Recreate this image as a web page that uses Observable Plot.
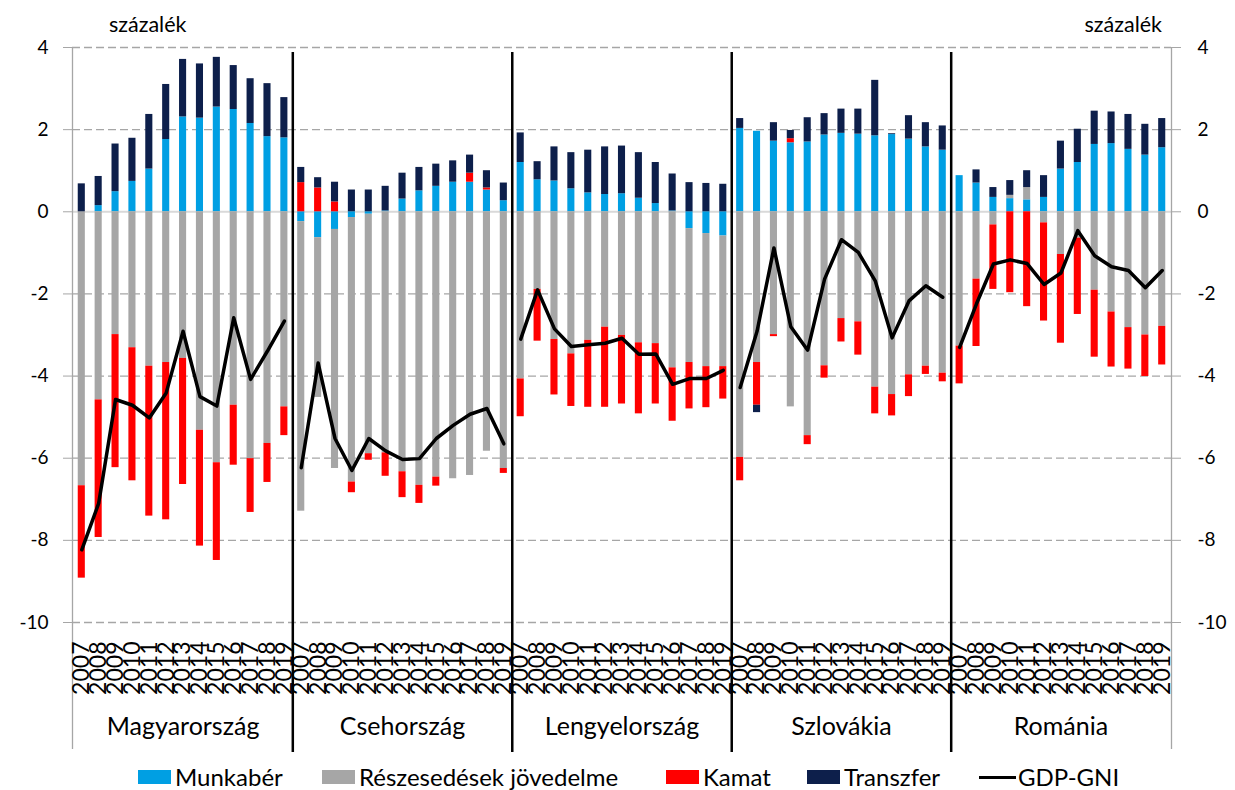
<!DOCTYPE html>
<html><head><meta charset="utf-8">
<script src="https://cdn.jsdelivr.net/npm/d3@7"></script>
<script src="https://cdn.jsdelivr.net/npm/@observablehq/plot@0.6"></script>
<style>
body{margin:0;background:#fff;font-family:Lato,"Open Sans",sans-serif;color:#000}
#wrap{position:relative;width:1235px;height:790px}
#chart{position:absolute;left:0;top:0;z-index:1}
.unit{position:absolute;top:12px;font-size:21.5px;line-height:24px;z-index:2}
.item{position:absolute;top:765px;height:24px;display:flex;align-items:center;font-size:24px;line-height:24px;white-space:nowrap;z-index:2}
.sw{display:inline-block;width:33px;height:14px;margin-right:4px}
.ln{display:inline-block;width:37px;height:3px;background:#000;margin-right:2px}
</style></head>
<body><div id="wrap">
<div id="chart"></div>
<div class="unit" style="left:109px">százalék</div>
<div class="unit" style="right:73px">százalék</div>
<div class="item" style="left:138px"><span class="sw" style="background:#009fe3"></span>Munkabér</div>
<div class="item" style="left:322px"><span class="sw" style="background:#a6a6a6"></span>Részesedések jövedelme</div>
<div class="item" style="left:666px"><span class="sw" style="background:#ff0000"></span>Kamat</div>
<div class="item" style="left:807px"><span class="sw" style="background:#0d1f4b"></span>Transzfer</div>
<div class="item" style="left:979px"><span class="ln"></span>GDP-GNI</div>
</div>
<script>
const countries = ["Magyarország", "Csehország", "Lengyelország", "Szlovákia", "Románia"];
const years = [2007, 2008, 2009, 2010, 2011, 2012, 2013, 2014, 2015, 2016, 2017, 2018, 2019];
const seriesNames = ["Munkabér", "Részesedések jövedelme", "Kamat", "Transzfer"];
const seriesColors = ["#009fe3", "#a6a6a6", "#ff0000", "#0d1f4b"];
const yTicks = [-10, -8, -6, -4, -2, 0, 2, 4];

const munkaber = [
  [0, 0.15, 0.49, 0.74, 1.04, 1.76, 2.31, 2.28, 2.55, 2.49, 2.15, 1.83, 1.80],
  [-0.24, -0.63, -0.43, -0.14, -0.06, 0.02, 0.31, 0.51, 0.62, 0.72, 0.72, 0.53, 0.27],
  [1.20, 0.78, 0.75, 0.56, 0.46, 0.42, 0.44, 0.33, 0.20, 0.02, -0.41, -0.53, -0.59],
  [2.03, 1.96, 1.72, 1.68, 1.70, 1.87, 1.91, 1.89, 1.85, 1.88, 1.77, 1.58, 1.50],
  [0.88, 0.70, 0.35, 0.32, 0.29, 0.35, 1.04, 1.20, 1.64, 1.66, 1.52, 1.38, 1.56]
];
const reszesedes = [
  [-6.67, -4.58, -2.99, -3.31, -3.76, -3.67, -3.57, -5.32, -6.11, -4.71, -6.01, -5.64, -4.75],
  [-7.05, -3.89, -5.82, -6.44, -5.83, -5.87, -6.33, -6.66, -6.46, -6.50, -6.42, -5.83, -6.25],
  [-4.07, -1.89, -3.11, -3.46, -3.13, -2.81, -3.01, -3.19, -3.21, -3.80, -3.26, -3.24, -3.18],
  [-5.98, -3.67, -2.99, -4.75, -5.45, -3.75, -2.60, -2.68, -4.27, -4.45, -3.97, -3.76, -3.93],
  [-3.27, -1.64, -0.32, 0.08, 0.30, -0.27, -1.04, -0.64, -1.91, -2.44, -2.82, -3.00, -2.79]
];
const kamat = [
  [-2.25, -3.35, -3.24, -3.24, -3.65, -3.83, -3.07, -2.82, -2.38, -1.46, -1.31, -0.95, -0.70],
  [0.71, 0.58, 0.24, -0.26, -0.16, -0.57, -0.63, -0.44, -0.22, 0, 0.22, 0.05, -0.12],
  [-0.92, -1.26, -1.35, -1.28, -1.63, -1.95, -1.67, -1.73, -1.47, -1.30, -1.13, -1.00, -0.79],
  [-0.57, -1.04, -0.05, 0.10, -0.22, -0.30, -0.57, -0.81, -0.65, -0.52, -0.53, -0.20, -0.21],
  [-0.92, -1.64, -1.57, -1.97, -2.31, -2.39, -2.16, -1.86, -1.63, -1.34, -1.01, -1.01, -0.94]
];
const transzfer = [
  [0.68, 0.71, 1.16, 1.05, 1.33, 1.34, 1.40, 1.32, 1.21, 1.07, 1.09, 1.29, 0.98],
  [0.37, 0.25, 0.48, 0.53, 0.53, 0.60, 0.63, 0.57, 0.54, 0.52, 0.44, 0.42, 0.43],
  [0.72, 0.44, 0.83, 0.88, 1.04, 1.16, 1.16, 1.11, 1.00, 0.90, 0.71, 0.69, 0.67],
  [0.24, -0.18, 0.45, 0.20, 0.59, 0.52, 0.59, 0.61, 1.35, 0.02, 0.57, 0.59, 0.59],
  [0, 0.32, 0.24, 0.36, 0.41, 0.53, 0.68, 0.81, 0.81, 0.77, 0.85, 0.75, 0.71]
];
const gdpGni = [
  [-8.23, -7.10, -4.57, -4.71, -5.02, -4.41, -2.91, -4.50, -4.73, -2.58, -4.08, -3.39, -2.66],
  [-6.23, -3.68, -5.52, -6.30, -5.52, -5.82, -6.03, -6.01, -5.52, -5.20, -4.93, -4.79, -5.65],
  [-3.10, -1.90, -2.85, -3.28, -3.24, -3.20, -3.08, -3.47, -3.46, -4.20, -4.06, -4.06, -3.86],
  [-4.28, -2.91, -0.88, -2.80, -3.37, -1.64, -0.68, -0.99, -1.68, -3.07, -2.17, -1.80, -2.08],
  [-3.30, -2.24, -1.27, -1.17, -1.26, -1.77, -1.49, -0.46, -1.07, -1.34, -1.43, -1.85, -1.43]
];

const n = years.length;
const seriesArrays = [munkaber, reszesedes, kamat, transzfer];
const bars = [], linePts = [], yearLabels = [];
countries.forEach((c, ci) => years.forEach((yr, yi) => {
  const i = ci * n + yi;
  seriesArrays.forEach((arr, si) => bars.push({i, country: c, series: seriesNames[si], value: arr[ci][yi]}));
  linePts.push({i, country: c, v: gdpGni[ci][yi]});
  yearLabels.push({i, year: String(yr)});
}));
const countryLabels = countries.map((c, ci) => ({c, mid: ci * n + (n - 1) / 2}));
const dividers = countries.slice(1).map((c, ci) => (ci + 1) * n - 0.5);
const xDomain = [-0.55, countries.length * n - 0.45];
const half = 0.21;

const chart = Plot.plot({
  width: 1235,
  height: 760,
  marginTop: 47,
  marginBottom: 138,
  marginLeft: 72,
  marginRight: 64,
  style: {fontFamily: "Lato, 'Open Sans', sans-serif", fontSize: "19px", color: "#000", background: "transparent", overflow: "visible"},
  x: {domain: xDomain, axis: null},
  y: {domain: [-10, 4], axis: null},
  color: {domain: seriesNames, range: seriesColors},
  marks: [
    Plot.ruleY(yTicks.filter(t => t !== 0), {stroke: "#a6a6a6", strokeWidth: 1.3, strokeDasharray: "8,4"}),
    Plot.ruleY([0], {stroke: "#d9d9d9", strokeWidth: 2}),
    Plot.ruleX(xDomain, {stroke: "#a6a6a6", strokeWidth: 1.3, insetBottom: -127}),
    Plot.rectY(bars, Plot.stackY({x1: d => d.i - half, x2: d => d.i + half, y: "value", fill: "series"})),
    Plot.line(linePts, {x: "i", y: "v", z: "country", stroke: "#000", strokeWidth: 3.5, strokeLinejoin: "round"}),
    Plot.ruleX(dividers, {stroke: "#000", strokeWidth: 2.5, insetTop: 5, insetBottom: -130}),
    Plot.axisY({anchor: "left", ticks: yTicks, tickSize: 9, tickPadding: 15, stroke: "#a6a6a6", fontSize: 19, tickFormat: d => String(d)}),
    Plot.axisY({anchor: "right", ticks: yTicks, tickSize: 9, tickPadding: 17, stroke: "#a6a6a6", fontSize: 19, tickFormat: d => String(d)}),
    Plot.text(yearLabels, {x: "i", text: "year", frameAnchor: "bottom", dy: 19, rotate: -90, textAnchor: "end", lineAnchor: "middle", fontSize: 23}),
    Plot.text(countryLabels, {x: "mid", text: "c", frameAnchor: "bottom", dy: 112, fontSize: 25})
  ]
});
document.getElementById("chart").appendChild(chart);
</script>
</body></html>
